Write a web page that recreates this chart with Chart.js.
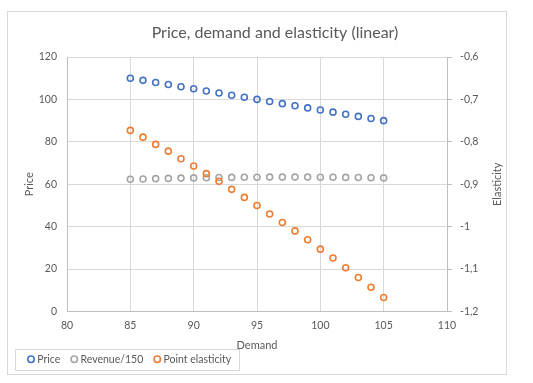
<!DOCTYPE html>
<html><head><meta charset="utf-8">
<script src="https://cdn.jsdelivr.net/npm/chart.js@4.4.1/dist/chart.umd.min.js"></script>
<style>html,body{margin:0;padding:0;background:#fff}#wrap{width:533px;height:383px}</style>
</head><body><div id="wrap"><canvas id="c" width="533" height="383"></canvas></div>
<script>
// ---- data ----
const demand = [85, 86, 87, 88, 89, 90, 91, 92, 93, 94, 95, 96, 97, 98, 99, 100, 101, 102, 103, 104, 105];
const price = [110, 109, 108, 107, 106, 105, 104, 103, 102, 101, 100, 99, 98, 97, 96, 95, 94, 93, 92, 91, 90];
const revenuePer150 = [62.33, 62.49, 62.64, 62.77, 62.89, 63.0, 63.09, 63.17, 63.24, 63.29, 63.33, 63.36, 63.37, 63.37, 63.36, 63.33, 63.29, 63.24, 63.17, 63.09, 63.0];
const elasticity = [-0.773, -0.789, -0.806, -0.822, -0.840, -0.857, -0.875, -0.893, -0.912, -0.931, -0.950, -0.970, -0.990, -1.010, -1.031, -1.053, -1.074, -1.097, -1.120, -1.143, -1.167];
const seriesNames = ['Price', 'Revenue/150', 'Point elasticity'];
const demandTicks = [80, 85, 90, 95, 100, 105, 110];
const priceTicks = [0, 20, 40, 60, 80, 100, 120];
const elasticityTicks = [-1.2, -1.1, -1.0, -0.9, -0.8, -0.7, -0.6];
const chartTitle = 'Price, demand and elasticity (linear)';

const FONT = 'Lato';
const TXT = '#595959';
const GRID = '#d9d9d9';
const AXIS = '#bfbfbf';
const TICK_SIZE = 10.5;
const AXIS_TITLE_SIZE = 11;

const pts = (ys) => demand.map((x, i) => ({x: x, y: ys[i]}));
const fmtComma = (v) => String(+(+v).toFixed(1)).replace('.', ',');

const frame = {
  id: 'frame',
  afterLayout(chart) {
    const lg = chart.legend;
    if (lg) { lg.top -= 13.5; lg.bottom -= 13.5; }
  },
  afterDraw(chart) {
    const ctx = chart.ctx;
    ctx.save();
    ctx.strokeStyle = GRID;
    ctx.lineWidth = 1;
    ctx.strokeRect(7.5, 11.5, 499, 363);
    const hb = chart.legend.legendHitBoxes;
    if (hb && hb.length) {
      const first = hb[0], last = hb[hb.length - 1];
      const l = Math.round(first.left - 15) + 0.5;
      const r = Math.round(last.left + last.width + 8) + 0.5;
      const t = Math.round(first.top + first.height / 2 - 10.5) + 0.5;
      const b = Math.round(first.top + first.height / 2 + 10.5) + 0.5;
      ctx.strokeRect(l, t, r - l, b - t);
    }
    // right axis title
    const y1 = chart.scales.y1;
    const ca = chart.chartArea;
    ctx.fillStyle = TXT;
    ctx.font = AXIS_TITLE_SIZE + 'px ' + FONT;
    ctx.textAlign = 'center';
    ctx.textBaseline = 'middle';
    ctx.translate(y1.left + 50, (ca.top + ca.bottom) / 2);
    ctx.rotate(-Math.PI / 2);
    ctx.fillText('Elasticity', 0, 0);
    ctx.restore();
  }
};

function build() {
  new Chart(document.getElementById('c'), {
    type: 'scatter',
    data: {
      datasets: [
        {label: seriesNames[0], data: pts(price), yAxisID: 'y', borderColor: '#4472C4', backgroundColor: 'rgba(255,255,255,0)', pointRadius: 3, pointBorderWidth: 1.6, order: 3},
        {label: seriesNames[1], data: pts(revenuePer150), yAxisID: 'y', borderColor: '#A5A5A5', backgroundColor: 'rgba(255,255,255,0)', pointRadius: 3, pointBorderWidth: 1.6, order: 2},
        {label: seriesNames[2], data: pts(elasticity), yAxisID: 'y1', borderColor: '#ED7D31', backgroundColor: 'rgba(255,255,255,0)', pointRadius: 3, pointBorderWidth: 1.6, order: 1}
      ]
    },
    options: {
      responsive: false,
      animation: false,
      devicePixelRatio: 1,
      layout: {padding: {left: 17, right: 0, top: 0, bottom: -5}},
      plugins: {
        tooltip: {enabled: false},
        title: {
          display: true, text: chartTitle, color: TXT,
          font: {family: FONT, size: 16, weight: 'normal', lineHeight: 1.2},
          padding: {top: 23.4, bottom: 14.4}
        },
        legend: {
          position: 'bottom', align: 'start',
          labels: {
            usePointStyle: true, pointStyle: 'circle', boxWidth: 2, boxHeight: 4.5,
            padding: 13, color: TXT, font: {family: FONT, size: TICK_SIZE},
            sort: (a, b) => a.datasetIndex - b.datasetIndex
          }
        }
      },
      scales: {
        x: {
          type: 'linear', min: 80, max: 110,
          afterBuildTicks: (s) => { s.ticks = demandTicks.map(v => ({value: v})); },
          afterFit: (s) => { s.height = 43; },
          ticks: {color: TXT, font: {family: FONT, size: TICK_SIZE}, padding: 8, maxRotation: 0},
          grid: {color: GRID, drawTicks: false},
          border: {color: AXIS},
          title: {display: true, text: 'Demand', color: TXT, font: {family: FONT, size: AXIS_TITLE_SIZE}, padding: {top: 0, bottom: 2}}
        },
        y: {
          position: 'left', min: 0, max: 120,
          afterBuildTicks: (s) => { s.ticks = priceTicks.map(v => ({value: v})); },
          afterFit: (s) => { s.width = 50; },
          ticks: {color: TXT, font: {family: FONT, size: TICK_SIZE}, padding: 10},
          grid: {color: GRID, drawTicks: false},
          border: {color: AXIS},
          title: {display: true, text: 'Price', color: TXT, font: {family: FONT, size: AXIS_TITLE_SIZE}, padding: {top: 6, bottom: 0}}
        },
        y1: {
          position: 'right', min: -1.2, max: -0.6,
          afterBuildTicks: (s) => { s.ticks = elasticityTicks.map(v => ({value: v})); },
          afterFit: (s) => { s.width = 86; },
          ticks: {color: TXT, font: {family: FONT, size: TICK_SIZE}, padding: 8, callback: fmtComma},
          grid: {drawOnChartArea: false, color: AXIS, drawTicks: true, tickLength: 5},
          border: {color: AXIS}
        }
      }
    },
    plugins: [frame]
  });
}
if (document.fonts && document.fonts.load) {
  Promise.all([document.fonts.load('12px Lato'), document.fonts.load('16px Lato')]).then(build, build);
} else { build(); }
</script>
</body></html>
